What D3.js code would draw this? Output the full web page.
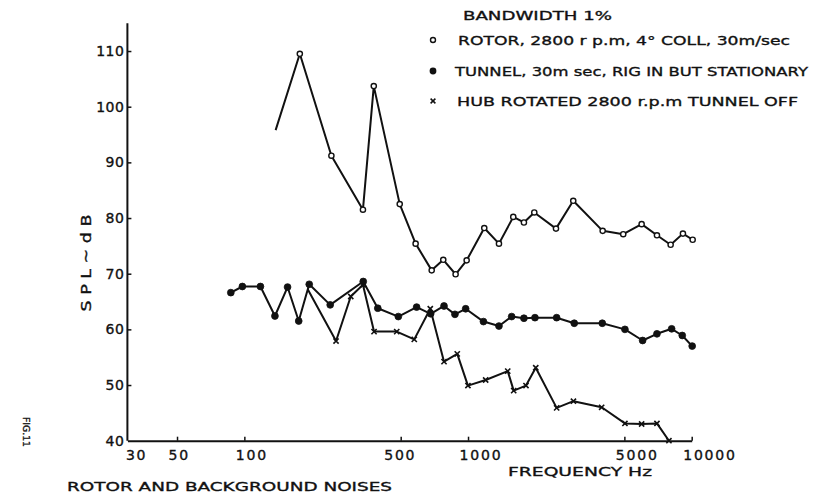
<!DOCTYPE html>
<html>
<head>
<meta charset="utf-8">
<script src="https://cdn.jsdelivr.net/npm/d3@7"></script>
<style>
  html, body { margin: 0; padding: 0; background: #fff; }
  svg { display: block; }
  text { font-family: "DejaVu Sans", "Liberation Sans", sans-serif; fill: #111; stroke: #111; stroke-width: 0.35px; }
</style>
</head>
<body>
<svg id="chart" width="828" height="497"></svg>
<script>
// Rotor, 2800 rpm, 4° collective, 30 m/sec
const rotorFreq = [138, 177, 245, 339, 379, 495, 583, 688, 775, 880, 986, 1182, 1375, 1593, 1778, 1978, 2473, 2954, 3999, 4942, 5973, 6993, 8051, 9137, 10100];
const rotorSPL  = [95.8, 109.5, 91.2, 81.5, 103.7, 82.5, 75.4, 70.6, 72.5, 69.9, 72.4, 78.2, 75.4, 80.2, 79.2, 81.0, 78.1, 83.1, 77.7, 77.1, 78.9, 76.9, 75.2, 77.2, 76.1];

// Tunnel at 30 m/sec, rig in but stationary
const tunnelFreq = [87, 98, 118, 137, 156, 175, 195, 242, 340, 395, 488, 589, 681, 781, 874, 976, 1172, 1375, 1567, 1778, 1992, 2490, 2985, 3983, 5029, 6034, 6993, 8135, 9073, 10050];
const tunnelSPL  = [66.6, 67.7, 67.7, 62.4, 67.6, 61.5, 68.1, 64.4, 68.6, 63.8, 62.3, 64.0, 62.8, 64.2, 62.7, 63.7, 61.4, 60.6, 62.3, 62.0, 62.1, 62.1, 61.1, 61.1, 60.0, 58.0, 59.2, 60.1, 58.9, 57.0];

// Hub rotated at 2800 rpm, tunnel off
const hubFreq = [192, 257, 299, 339, 380, 480, 575, 678, 781, 895, 999, 1199, 1505, 1600, 1816, 2008, 2490, 2960, 3957, 5029, 5973, 6993, 7911];
const hubSPL  = [67.2, 57.9, 65.9, 68.0, 59.6, 59.6, 58.2, 63.7, 54.2, 55.6, 49.9, 50.9, 52.5, 49.0, 49.9, 53.1, 45.9, 47.1, 46.0, 43.1, 43.0, 43.1, 40.0];

const xTicks = [30, 50, 100, 500, 1000, 5000, 10000];
const yTicks = [40, 50, 60, 70, 80, 90, 100, 110];

const legendLabels = [
  "ROTOR, 2800 r p.m, 4\u00B0 COLL, 30m/sec",
  "TUNNEL, 30m sec, RIG IN BUT STATIONARY",
  "HUB ROTATED  2800 r.p.m TUNNEL OFF"
];
const bandwidthLabel = "BANDWIDTH  1%";
const xTitle = "FREQUENCY   Hz";
const yTitle = "S P L ~ d B";
const caption = "ROTOR AND BACKGROUND NOISES";
const figLabel = "FIG.11";

const svg = d3.select("#chart");
const ink = "#111";

const x = d3.scaleLog().domain([30, 10000]).range([127.4, 691.7]);
const y = d3.scaleLinear().domain([40, 115]).range([440.7, 23.2]);

// axes: short ticks pointing into the plot
const xAxis = d3.axisBottom(x).tickValues(xTicks).tickFormat(d3.format("d"))
  .tickSize(-4).tickSizeOuter(0).tickPadding(9);
const yAxis = d3.axisLeft(y).tickValues(yTicks)
  .tickSize(-4).tickSizeOuter(0).tickPadding(3);

const gx = svg.append("g").attr("transform", `translate(0,${y(40)})`).call(xAxis);
const gy = svg.append("g").attr("transform", `translate(${x(30)},0)`).call(yAxis);

[gx, gy].forEach(g => {
  g.select(".domain").attr("stroke", ink).attr("stroke-width", 2);
  g.selectAll(".tick line").attr("stroke", ink).attr("stroke-width", 1.5);
  g.selectAll(".tick text").attr("fill", ink)
    .style("font-family", '"DejaVu Sans", sans-serif').style("font-size", "14px");
});
gx.selectAll(".tick").filter(d => d === 30).select("line").remove();
gy.selectAll(".tick").filter(d => d === 40).select("line").remove();
const xLabelShift = { 30: -2, 500: -17 };
gx.selectAll(".tick text")
  .attr("text-anchor", "start")
  .attr("dx", d => (xLabelShift[d] !== undefined ? xLabelShift[d] : -9))
  .style("letter-spacing", "1.8px");
gy.selectAll(".tick text").style("letter-spacing", "0.5px");
// extend the vertical axis above the last tick
gy.select(".domain").attr("d", `M0,${y(40)}V${y(115)}`);

// series lines
const line = d3.line().x(d => x(d[0])).y(d => y(d[1]));
const rotor = rotorFreq.map((f, i) => [f, rotorSPL[i]]);
const tunnel = tunnelFreq.map((f, i) => [f, tunnelSPL[i]]);
const hub = hubFreq.map((f, i) => [f, hubSPL[i]]);

[hub, tunnel, rotor].forEach(s => {
  svg.append("path").datum(s).attr("d", line)
    .attr("fill", "none").attr("stroke", ink).attr("stroke-width", 2)
    .attr("stroke-linejoin", "round");
});

// markers: the first rotor and hub readings are plain line ends
svg.append("g").selectAll("path").data(hub.slice(1)).join("path")
  .attr("transform", d => `translate(${x(d[0])},${y(d[1])})`)
  .attr("d", "M-2.6,-2.6L2.6,2.6M-2.6,2.6L2.6,-2.6")
  .attr("stroke", ink).attr("stroke-width", 1.6);

svg.append("g").selectAll("circle").data(tunnel).join("circle")
  .attr("cx", d => x(d[0])).attr("cy", d => y(d[1])).attr("r", 3.4)
  .attr("fill", ink).attr("stroke", ink).attr("stroke-width", 0.8);

svg.append("g").selectAll("circle").data(rotor.slice(1)).join("circle")
  .attr("cx", d => x(d[0])).attr("cy", d => y(d[1])).attr("r", 2.6)
  .attr("fill", "#fff").attr("stroke", ink).attr("stroke-width", 1.4);

// legend
const lg = svg.append("g");
lg.append("text").attr("x", 463).attr("y", 15).attr("dy", "0.36em")
  .attr("textLength", 149).attr("lengthAdjust", "spacingAndGlyphs")
  .style("font-size", "12.5px").text(bandwidthLabel);

const rows = [40, 71, 101];
const widths = [332, 353, 341];
const starts = [458, 455, 457];
lg.append("circle").attr("cx", 433).attr("cy", rows[0]).attr("r", 2.5)
  .attr("fill", "#fff").attr("stroke", ink).attr("stroke-width", 1.4);
lg.append("circle").attr("cx", 433).attr("cy", rows[1]).attr("r", 3.4).attr("fill", ink);
lg.append("path").attr("transform", `translate(433,${rows[2]})`)
  .attr("d", "M-2.4,-2.4L2.4,2.4M-2.4,2.4L2.4,-2.4").attr("stroke", ink).attr("stroke-width", 1.5);
legendLabels.forEach((t, i) => {
  lg.append("text").attr("x", starts[i]).attr("y", rows[i]).attr("dy", "0.36em")
    .attr("textLength", widths[i]).attr("lengthAdjust", "spacingAndGlyphs")
    .style("font-size", "13px").text(t);
});

// titles
svg.append("text").attr("x", 508).attr("y", 471).attr("dy", "0.36em")
  .attr("textLength", 144).attr("lengthAdjust", "spacingAndGlyphs")
  .style("font-size", "13px").text(xTitle);

svg.append("text").attr("transform", "translate(86,263) rotate(-90)")
  .attr("text-anchor", "middle").attr("dy", "0.36em")
  .attr("textLength", 97).attr("lengthAdjust", "spacingAndGlyphs")
  .style("font-size", "14px").text(yTitle);

svg.append("text").attr("x", 67).attr("y", 486).attr("dy", "0.36em")
  .attr("textLength", 325).attr("lengthAdjust", "spacingAndGlyphs")
  .style("font-size", "13px").text(caption);

svg.append("text").attr("transform", "translate(26,432) rotate(90)")
  .attr("text-anchor", "middle").attr("dy", "0.36em")
  .attr("textLength", 30).attr("lengthAdjust", "spacingAndGlyphs")
  .style("font-size", "9px").text(figLabel);
</script>
</body>
</html>
